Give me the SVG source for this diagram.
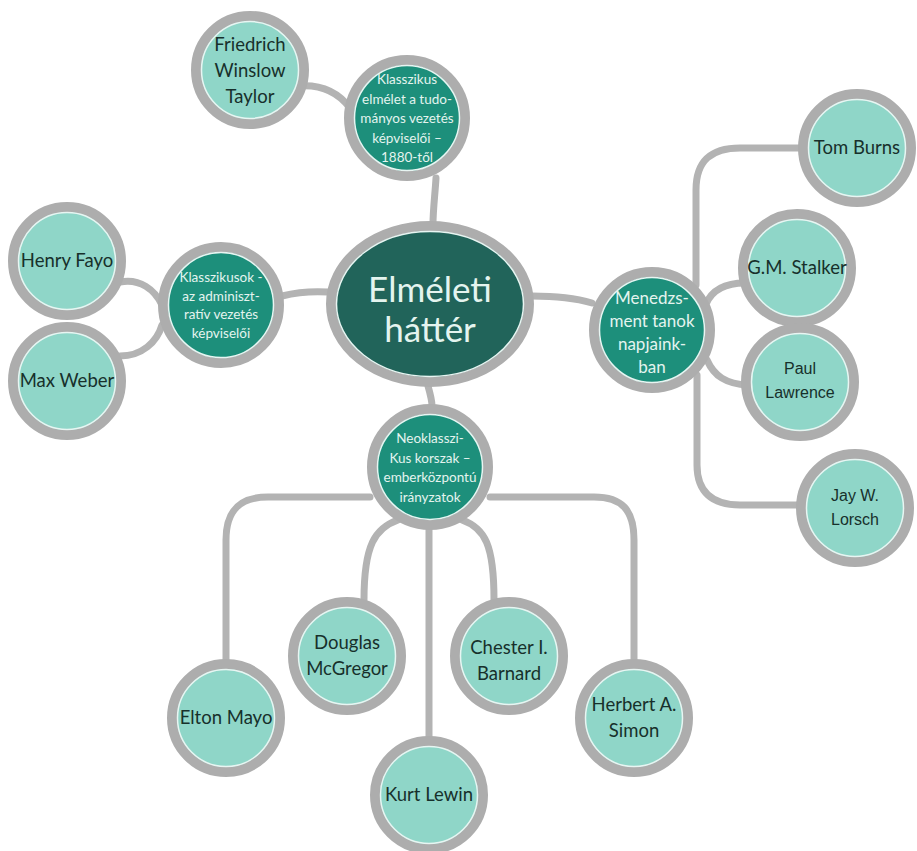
<svg xmlns="http://www.w3.org/2000/svg" width="917" height="851" viewBox="0 0 917 851">
  <style>
    .link { fill: none; stroke: #b3b3b3; stroke-width: 7; stroke-linecap: round; }
    .ring { stroke: #adadad; stroke-width: 10; }
    .edge { fill: none; stroke: #e8f5f2; stroke-width: 1.5; }
    .leaf { fill: #8fd6c8; }
    .topic { fill: #1d8f7b; }
    .core { fill: #21645a; }
    .tl { font-family: Lato, "Open Sans", sans-serif; font-size: 18.5px; fill: #17302b; text-anchor: middle; }
    .ta { font-family: "Liberation Sans", Arial, sans-serif; font-size: 16px; fill: #17302b; text-anchor: middle; }
    .tt { font-family: Lato, "Open Sans", sans-serif; font-size: 13.5px; fill: #e4f4ef; text-anchor: middle; }
    .tm { font-family: Lato, "Open Sans", sans-serif; font-size: 17px; fill: #e4f4ef; text-anchor: middle; }
    .tc { font-family: Lato, "Open Sans", sans-serif; font-size: 35px; fill: #e4f4ef; text-anchor: middle; }
  </style>
  <defs>
    <g id="leafShape">
      <circle r="54" class="leaf ring"/>
      <circle r="48.5" class="edge"/>
    </g>
    <g id="topicShape">
      <circle r="58" class="topic ring"/>
      <circle r="52.5" class="edge"/>
    </g>
  </defs>
  <rect width="917" height="851" fill="#ffffff"/>

  <g id="connectors">
    <!-- upper branch -->
    <path class="link" d="M 298 86 C 322 84 338 92 350 108"/>
    <path class="link" d="M 436 178 C 435 195 433 210 433 224"/>
    <!-- left branch -->
    <path class="link" d="M 282 296 C 298 292 312 291 328 292"/>
    <path class="link" d="M 120 282 C 140 278 155 290 162 305"/>
    <path class="link" d="M 120 356 C 142 356 157 342 162 325"/>
    <!-- right branch -->
    <path class="link" d="M 532 296 C 555 296 575 298 592 303"/>
    <path class="link" d="M 696 285 L 696 190 C 696 160 712 148 740 148 L 803 148"/>
    <path class="link" d="M 706 304 C 712 290 724 283 745 283"/>
    <path class="link" d="M 707 360 C 714 376 726 384 748 385"/>
    <path class="link" d="M 697 375 L 697 465 C 697 492 712 505 740 505 L 800 505"/>
    <!-- lower branch -->
    <path class="link" d="M 428 386 C 430 393 432 400 432 406"/>
    <path class="link" d="M 370 497 L 268 497 C 240 497 226 510 226 540 L 226 660"/>
    <path class="link" d="M 490 497 L 594 497 C 622 497 634 510 634 540 L 634 660"/>
    <path class="link" d="M 398 520 C 375 528 364 545 364 600"/>
    <path class="link" d="M 462 520 C 485 528 494 545 494 600"/>
    <path class="link" d="M 429 530 L 429 737"/>
  </g>

  <g id="node-core">
    <ellipse cx="430" cy="304" rx="99" ry="78" class="core ring"/>
    <ellipse cx="430" cy="304" rx="93.5" ry="72.5" class="edge"/>
    <text class="tc" x="430" y="302">Elméleti</text>
    <text class="tc" x="430" y="342">háttér</text>
  </g>

  <g id="node-klasszikus-tudomanyos">
    <use href="#topicShape" x="407" y="118"/>
    <text class="tt" x="407" y="84">Klasszikus</text>
    <text class="tt" x="407" y="103.5">elmélet a tudo-</text>
    <text class="tt" x="407" y="123">mányos vezetés</text>
    <text class="tt" x="407" y="142.5">képviselői –</text>
    <text class="tt" x="407" y="162">1880-től</text>
  </g>

  <g id="node-taylor">
    <use href="#leafShape" x="250" y="70"/>
    <text class="tl" x="250" y="51">Friedrich</text>
    <text class="tl" x="250" y="77">Winslow</text>
    <text class="tl" x="250" y="103">Taylor</text>
  </g>

  <g id="node-klasszikus-adminisztrativ">
    <use href="#topicShape" x="221" y="305"/>
    <text class="tt" x="221" y="282">Klasszikusok -</text>
    <text class="tt" x="221" y="300.5">az adminiszt-</text>
    <text class="tt" x="221" y="319">ratív vezetés</text>
    <text class="tt" x="221" y="337.5">képviselői</text>
  </g>

  <g id="node-fayo">
    <use href="#leafShape" x="67" y="261"/>
    <text class="tl" x="67" y="267">Henry Fayo</text>
  </g>

  <g id="node-weber">
    <use href="#leafShape" x="67" y="381"/>
    <text class="tl" x="67" y="387">Max Weber</text>
  </g>

  <g id="node-menedzsment">
    <use href="#topicShape" x="652" y="330"/>
    <text class="tm" x="652" y="304">Menedzs-</text>
    <text class="tm" x="652" y="327">ment tanok</text>
    <text class="tm" x="652" y="350">napjaink-</text>
    <text class="tm" x="652" y="373">ban</text>
  </g>

  <g id="node-burns">
    <use href="#leafShape" x="857" y="148"/>
    <text class="tl" x="857" y="154">Tom Burns</text>
  </g>

  <g id="node-stalker">
    <use href="#leafShape" x="797" y="268"/>
    <text class="tl" x="797" y="274">G.M. Stalker</text>
  </g>

  <g id="node-lawrence">
    <use href="#leafShape" x="800" y="382"/>
    <text class="ta" x="800" y="374">Paul</text>
    <text class="ta" x="800" y="398">Lawrence</text>
  </g>

  <g id="node-lorsch">
    <use href="#leafShape" x="855" y="508"/>
    <text class="ta" x="855" y="501">Jay W.</text>
    <text class="ta" x="855" y="525">Lorsch</text>
  </g>

  <g id="node-neoklasszikus">
    <use href="#topicShape" x="430" y="467"/>
    <text class="tt" x="430" y="443">Neoklasszi-</text>
    <text class="tt" x="430" y="462.5">Kus korszak –</text>
    <text class="tt" x="430" y="482">emberközpontú</text>
    <text class="tt" x="430" y="501.5">irányzatok</text>
  </g>

  <g id="node-mayo">
    <use href="#leafShape" x="226" y="718"/>
    <text class="tl" x="226" y="724">Elton Mayo</text>
  </g>

  <g id="node-mcgregor">
    <use href="#leafShape" x="347" y="656"/>
    <text class="tl" x="347" y="649">Douglas</text>
    <text class="tl" x="347" y="675">McGregor</text>
  </g>

  <g id="node-lewin">
    <use href="#leafShape" x="429" y="795"/>
    <text class="tl" x="429" y="801">Kurt Lewin</text>
  </g>

  <g id="node-barnard">
    <use href="#leafShape" x="509" y="656"/>
    <text class="tl" x="509" y="654">Chester I.</text>
    <text class="tl" x="509" y="680">Barnard</text>
  </g>

  <g id="node-simon">
    <use href="#leafShape" x="634" y="718"/>
    <text class="tl" x="634" y="711">Herbert A.</text>
    <text class="tl" x="634" y="737">Simon</text>
  </g>
</svg>
